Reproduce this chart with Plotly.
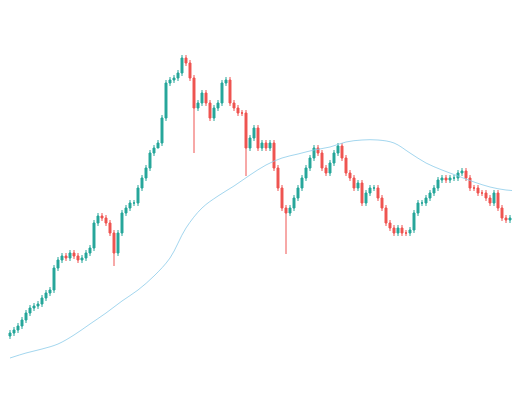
import plotly.graph_objects as go

# closes (price units, 4px per candle)
close_px = [
    325, 322, 318, 312, 305, 300, 298, 296, 290, 285, 282,
    260, 252, 248, 250, 245, 248, 252, 250, 245, 240,
    215, 208, 210, 215, 225, 245, 225, 205, 200, 195,
    195, 180, 170, 160, 145, 140, 135, 110, 75, 72, 70, 65, 50, 55, 70,
    100, 95, 85, 95, 110, 100, 95, 75, 72, 95, 100, 105, 105, 140,
    130, 120, 140, 135, 140, 135, 160, 180, 200, 205, 200, 190, 180,
    170, 160, 150, 140, 145, 160, 165, 155, 145, 138, 150, 165, 170,
    180, 175, 195, 185, 180, 180, 190, 200, 215, 220, 225, 220, 225,
    225, 222, 205, 195, 195, 190, 185, 180, 172, 170, 172, 170, 170,
    165, 163, 170, 180, 180, 185, 185, 190, 195, 185, 200, 210, 212,
    210, 206, 205, 205, 205,
]
closes = [400 - v for v in close_px]
opens = [closes[0] - 3] + closes[:-1]

# extra long lower wicks (candle index -> low)
long_lows = {26: 400 - 258, 46: 400 - 145, 59: 400 - 168, 69: 400 - 246, 37: 400 - 140}
highs = [max(o, c) + 3 for o, c in zip(opens, closes)]
lows = [long_lows.get(i, min(o, c) - 3) for i, (o, c) in enumerate(zip(opens, closes))]

# moving average, every 4th candle
ma_idx = list(range(0, 130, 4))
ma_px = [350, 345, 341, 336, 327, 316, 305, 293, 282, 268, 250, 220, 200, 188,
         178, 167, 157, 150, 146, 142, 139, 134, 132, 132, 135, 145, 155, 162,
         168, 174, 179, 182, 183]
ma = [400 - v for v in ma_px]

x = list(range(len(closes)))

fig = go.Figure()
fig.add_trace(go.Candlestick(
    x=x, open=opens, high=highs, low=lows, close=closes,
    increasing=dict(line=dict(color="#26a69a", width=1), fillcolor="#26a69a"),
    decreasing=dict(line=dict(color="#ef5350", width=1), fillcolor="#ef5350"),
    whiskerwidth=0, showlegend=False,
))
fig.add_trace(go.Scatter(x=ma_idx, y=ma, mode="lines", line=dict(color="#8ccbea", width=0.8),
                         line_shape="spline", showlegend=False, hoverinfo="skip"))

fig.update_layout(
    width=520, height=400, margin=dict(l=0, r=0, t=0, b=0),
    paper_bgcolor="white", plot_bgcolor="white",
    xaxis=dict(visible=False, range=[-0.5, 129.5], rangeslider=dict(visible=False)),
    yaxis=dict(visible=False, range=[0, 400]),
)
fig.write_html("out.html")
